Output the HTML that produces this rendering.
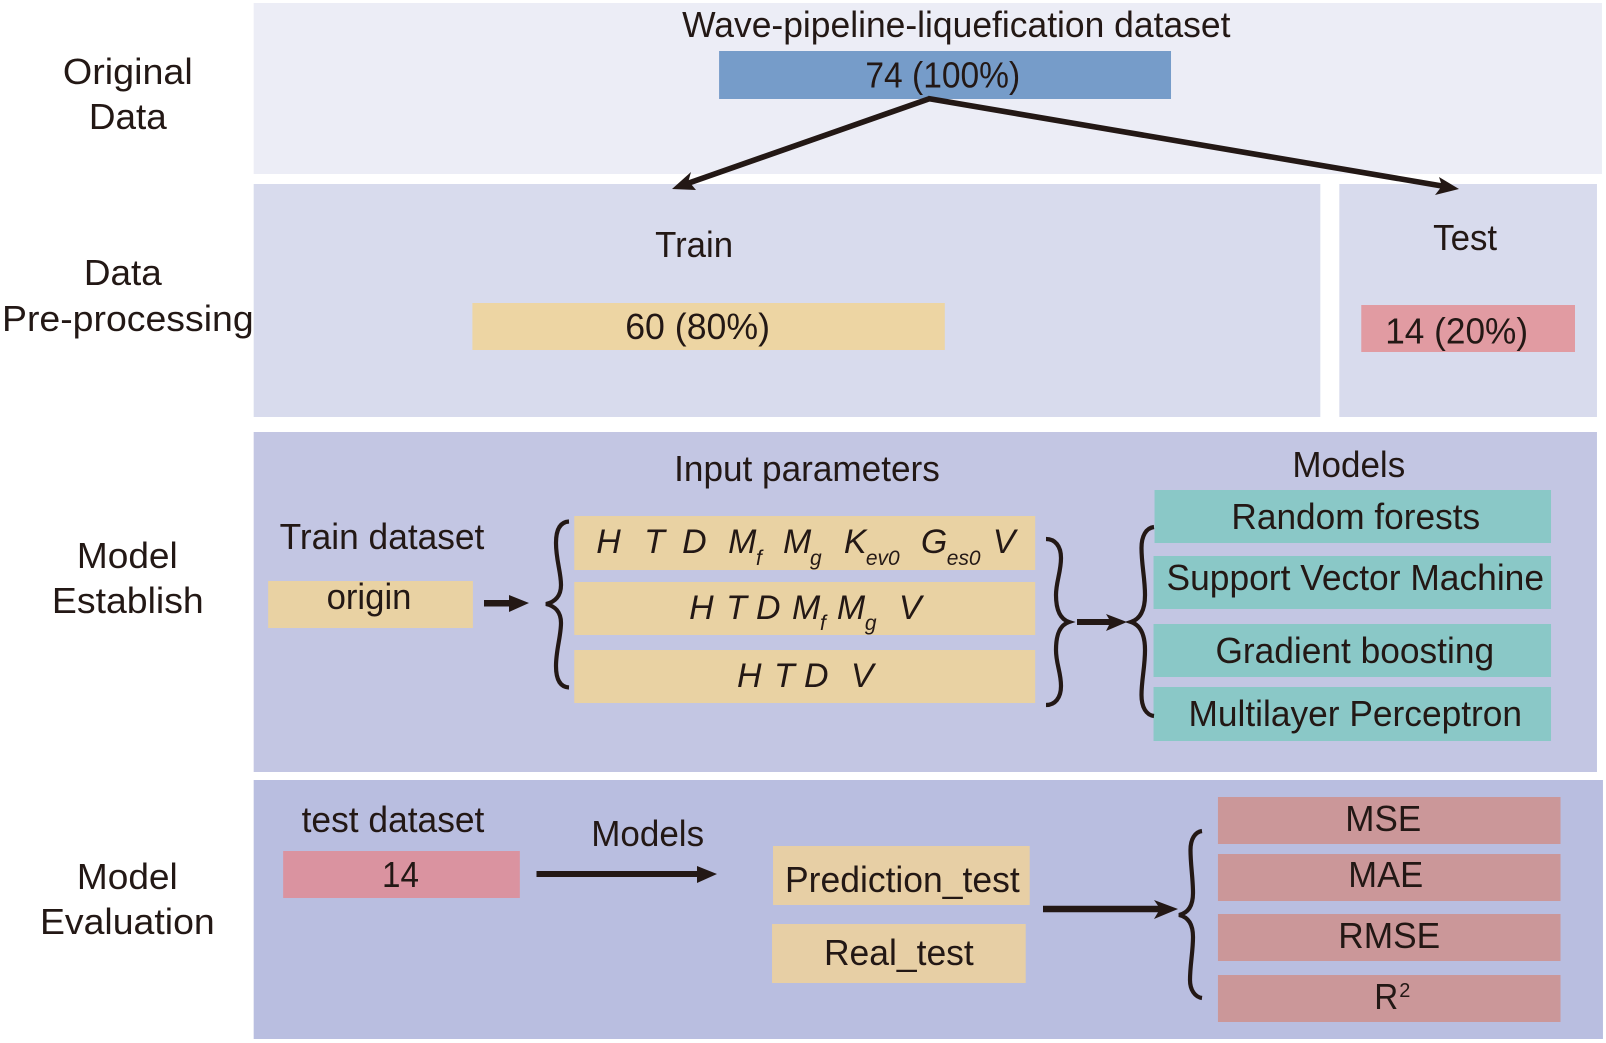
<!DOCTYPE html>
<html><head><meta charset="utf-8">
<style>
html,body{margin:0;padding:0;background:#fff;width:1606px;height:1043px;overflow:hidden}
svg{display:block}
text{font-family:"Liberation Sans",Arial,sans-serif;font-size:36px;fill:#231815}
.i{font-style:italic;font-size:34px}
.s{font-style:italic;font-size:21px}
</style></head>
<body>
<svg width="1606" height="1043" viewBox="0 0 1606 1043" xmlns="http://www.w3.org/2000/svg">
<rect width="1606" height="1043" fill="#fff"/>
<g transform="scale(0.99873,1)">
<!-- panels -->
<rect x="254" y="3" width="1350" height="171" fill="#ECEDF6"/>
<rect x="254" y="184" width="1068" height="233" fill="#D8DBED"/>
<rect x="1341" y="184" width="258" height="233" fill="#D8DBED"/>
<rect x="254" y="432" width="1345" height="340" fill="#C3C6E3"/>
<rect x="254" y="780" width="1351" height="259" fill="#B9BEE0"/>
<!-- boxes -->
<rect x="720" y="51" width="452.500" height="48" fill="#769CC9"/>
<rect x="473" y="303" width="473" height="47" fill="#EDD5A3"/>
<rect x="1363" y="305" width="214" height="47" fill="#E19BA2"/>
<rect x="268.500" y="581" width="205" height="47" fill="#E9D2A3"/>
<rect x="575" y="516" width="461.500" height="54" fill="#E9D2A3"/>
<rect x="575" y="582" width="461.500" height="53" fill="#E9D2A3"/>
<rect x="575" y="650" width="461.500" height="53" fill="#E9D2A3"/>
<rect x="1156" y="490" width="397" height="53" fill="#8AC8C7"/>
<rect x="1155" y="556" width="398" height="53" fill="#8AC8C7"/>
<rect x="1155" y="624" width="398" height="53" fill="#8AC8C7"/>
<rect x="1155" y="687" width="398" height="54" fill="#8AC8C7"/>
<rect x="283.500" y="851" width="237" height="47" fill="#DA93A0"/>
<rect x="774" y="846" width="257" height="59" fill="#E7CFA5"/>
<rect x="773" y="924" width="254" height="59" fill="#E7CFA5"/>
<rect x="1219.500" y="797" width="343" height="47" fill="#CB9799"/>
<rect x="1219.500" y="854" width="343" height="47" fill="#CB9799"/>
<rect x="1219.500" y="914" width="343" height="47" fill="#CB9799"/>
<rect x="1219.500" y="975" width="343" height="47" fill="#CB9799"/>
<!-- labels -->
<g transform="translate(0,1)">
<text x="63" y="83" textLength="130" lengthAdjust="spacingAndGlyphs">Original</text>
<text x="89" y="128" textLength="78" lengthAdjust="spacingAndGlyphs">Data</text>
<text x="84" y="284" textLength="78" lengthAdjust="spacingAndGlyphs">Data</text>
<text x="2" y="330" textLength="252" lengthAdjust="spacingAndGlyphs">Pre-processing</text>
<text x="77" y="567" textLength="101" lengthAdjust="spacingAndGlyphs">Model</text>
<text x="52" y="612" textLength="152" lengthAdjust="spacingAndGlyphs">Establish</text>
<text x="77" y="888" textLength="101" lengthAdjust="spacingAndGlyphs">Model</text>
<text x="40" y="933" textLength="175" lengthAdjust="spacingAndGlyphs">Evaluation</text>
<text x="683" y="36" textLength="549" lengthAdjust="spacingAndGlyphs">Wave-pipeline-liquefication dataset</text>
<text x="866.500" y="86.500" textLength="155" lengthAdjust="spacingAndGlyphs">74 (100%)</text>
<text x="656" y="256" textLength="78" lengthAdjust="spacingAndGlyphs">Train</text>
<text x="626" y="338" textLength="145" lengthAdjust="spacingAndGlyphs">60 (80%)</text>
<text x="1435" y="249" textLength="64" lengthAdjust="spacingAndGlyphs">Test</text>
<text x="1387" y="342.500" textLength="143" lengthAdjust="spacingAndGlyphs">14 (20%)</text>
<text x="675" y="480" textLength="266" lengthAdjust="spacingAndGlyphs">Input parameters</text>
<text x="280" y="548" textLength="205" lengthAdjust="spacingAndGlyphs">Train dataset</text>
<text x="327" y="608" textLength="85" lengthAdjust="spacingAndGlyphs">origin</text>
<text x="1294" y="476" textLength="113" lengthAdjust="spacingAndGlyphs">Models</text>
<text x="1233" y="528" textLength="249" lengthAdjust="spacingAndGlyphs">Random forests</text>
<text x="1168" y="589" textLength="378" lengthAdjust="spacingAndGlyphs">Support Vector Machine</text>
<text x="1217" y="662" textLength="279" lengthAdjust="spacingAndGlyphs">Gradient boosting</text>
<text x="1190" y="725" textLength="334" lengthAdjust="spacingAndGlyphs">Multilayer Perceptron</text>
<text x="302" y="831" textLength="183" lengthAdjust="spacingAndGlyphs">test dataset</text>
<text x="592" y="845" textLength="113" lengthAdjust="spacingAndGlyphs">Models</text>
<text x="382.500" y="886" textLength="37" lengthAdjust="spacingAndGlyphs">14</text>
<text x="786" y="891" textLength="235" lengthAdjust="spacingAndGlyphs">Prediction_test</text>
<text x="825" y="964" textLength="150" lengthAdjust="spacingAndGlyphs">Real_test</text>
<text x="1347" y="830" textLength="76" lengthAdjust="spacingAndGlyphs">MSE</text>
<text x="1350" y="886" textLength="75" lengthAdjust="spacingAndGlyphs">MAE</text>
<text x="1340" y="947" textLength="102" lengthAdjust="spacingAndGlyphs">RMSE</text>
<text x="1376" y="1008" textLength="24" lengthAdjust="spacingAndGlyphs">R</text>
<text x="1401" y="996" style="font-size:20px">2</text>
</g>
<!-- parameters row 1 -->
<text class="i" x="597" y="553">H</text>
<text class="i" x="645" y="553">T</text>
<text class="i" x="683" y="553">D</text>
<text class="i" x="729" y="553">M</text>
<text class="s" x="757" y="565">f</text>
<text class="i" x="784" y="553">M</text>
<text class="s" x="811" y="565">g</text>
<text class="i" x="845" y="553">K</text>
<text class="s" x="867" y="565">ev0</text>
<text class="i" x="922" y="553">G</text>
<text class="s" x="948" y="565">es0</text>
<text class="i" x="994" y="553">V</text>
<!-- parameters row 2 -->
<text class="i" x="690" y="619">H</text>
<text class="i" x="727" y="619">T</text>
<text class="i" x="757" y="619">D</text>
<text class="i" x="793" y="619">M</text>
<text class="s" x="821" y="630">f</text>
<text class="i" x="838" y="619">M</text>
<text class="s" x="866" y="630">g</text>
<text class="i" x="900" y="619">V</text>
<!-- parameters row 3 -->
<text class="i" x="738" y="687">H</text>
<text class="i" x="775" y="687">T</text>
<text class="i" x="805" y="687">D</text>
<text class="i" x="852" y="687">V</text>
</g>
<!-- arrows -->
<g fill="none" stroke="#231815" stroke-width="5.600">
<path d="M930 98.500 L686 184"/>
<path d="M928 98.500 L1445 186.500"/>
</g>
<g fill="#231815" stroke="none">
<path d="M672 189 L691 172 L688.500 181 L696 190 Z"/>
<path d="M1459 189 L1439 177 L1442 186 L1435 195 Z"/>
<path d="M484 600 H509 V595 L529 603 L509 612 V606.500 H484 Z"/>
<path d="M1077 619 H1109 L1106 614 L1127 622 L1106 631 L1109 625 H1077 Z"/>
<path d="M536.500 871 H697 V866 L717 874 L697 883 V877 H536.500 Z"/>
<path d="M1043 905.800 H1158 L1154 900 L1178 909 L1154 919 L1158 912.200 H1043 Z"/>
</g>
<!-- braces -->
<g fill="none" stroke="#231815" stroke-width="4.200" stroke-linejoin="miter">
<path d="M569 521.500 C560 522 556 530 556 543 C556 560 561 572 561 585 C561 596 555 602 546 604 C555 606 561 612 561 623 C561 636 556 650 556 666 C556 679 560 687 569 687.500"/>
<path d="M1046 539 C1055 539 1061 546 1061 558 C1061 572 1056 582 1056 595 C1056 610 1060 619 1069 622 C1060 625 1056 634 1056 650 C1056 664 1061 672 1061 686 C1061 698 1055 705 1046 705"/>
<path d="M1154 527 C1146 528 1141.500 536 1141.500 548 C1141.500 565 1145 578 1145 595 C1145 610 1140 619 1131 622 C1140 625 1145 634 1145 650 C1145 667 1141.500 680 1141.500 695 C1141.500 707 1146 715 1154 716"/>
<path d="M1202 831 C1195 832 1190.500 839 1190.500 850 C1190.500 865 1193 878 1193 893 C1193 906 1188 913 1179 915 C1188 917 1193 924 1193 937 C1193 952 1190 965 1190 980 C1190 990 1195 997 1202 998"/>
</g>
</svg>
</body></html>
